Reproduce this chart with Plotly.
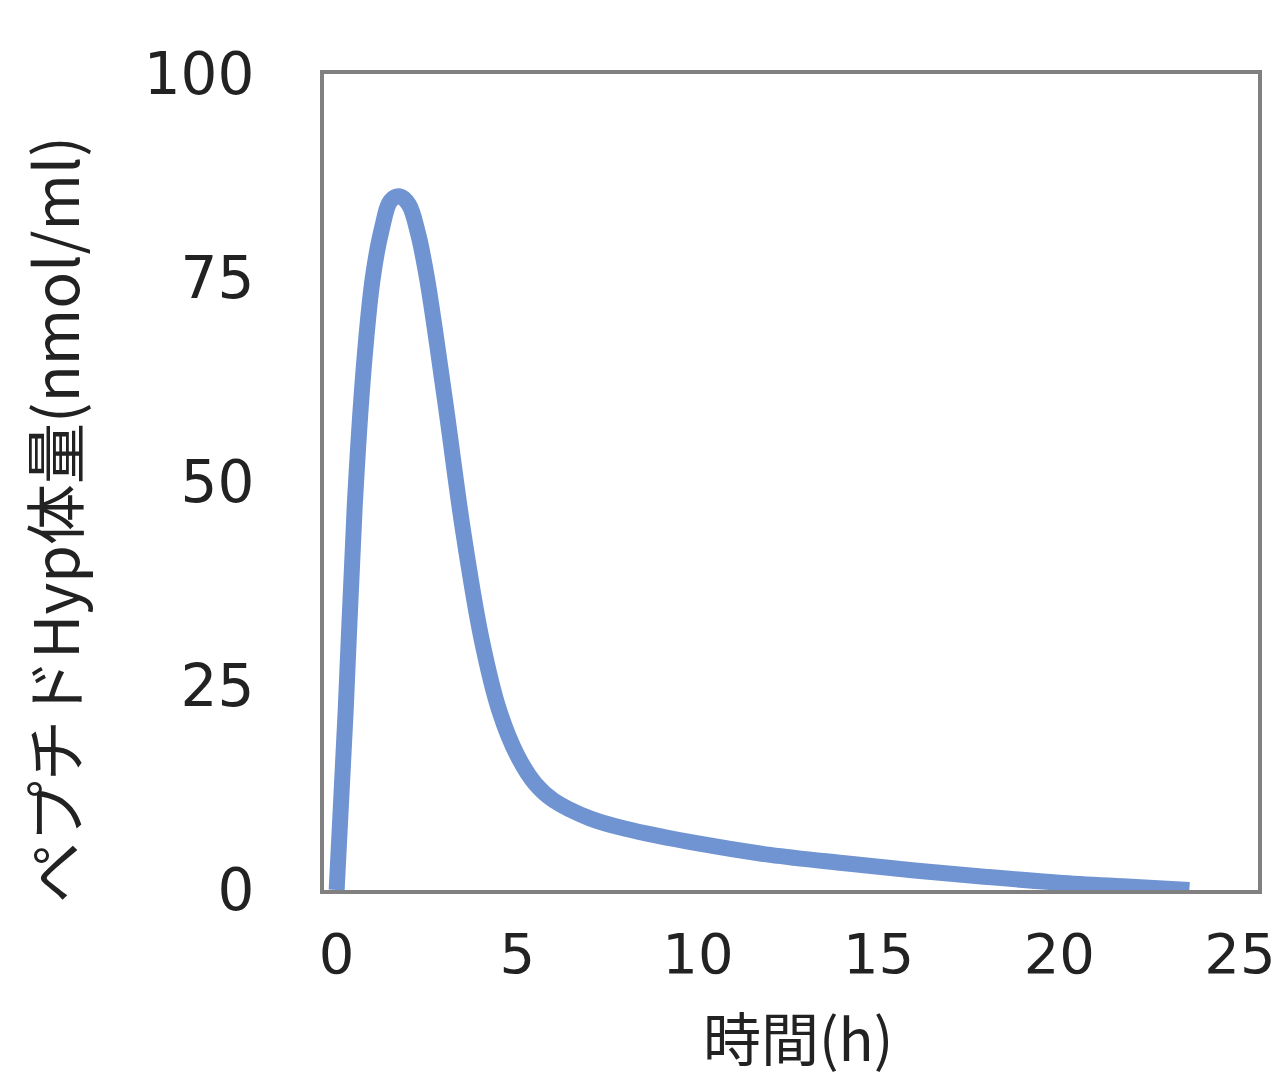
import plotly.graph_objects as go

time_h = [0, 0.25, 0.5, 0.75, 1.0, 1.25, 1.5, 1.75, 2.0, 2.25, 2.5, 3.0, 3.5, 4.0, 4.5, 5.0, 5.5, 6.0, 7.0, 8.0, 10.0, 12.0, 14.0, 16.0, 18.0, 20.0, 22.0, 23.6]
hyp_nmol_ml = [0, 22, 47, 64, 75, 81, 84.5, 85, 84, 80.5, 75, 60, 44, 31, 22, 16.5, 13, 11, 8.8, 7.5, 5.7, 4.3, 3.3, 2.4, 1.6, 0.9, 0.4, 0]

x_ticks = [0, 5, 10, 15, 20, 25]
y_ticks = [0, 25, 50, 75, 100]

L, R, T, B = 316, 29, 66, 200
W = 1279 - L - R
H = 1082 - T - B

fig = go.Figure()
fig.add_trace(go.Scatter(
    x=time_h, y=hyp_nmol_ml, mode="lines",
    line=dict(color="#7094d2", width=16, shape="spline", smoothing=1.0),
    showlegend=False, hoverinfo="skip",
))

num_font = "DejaVu Sans, sans-serif"
jp_font = "Noto Sans CJK JP, sans-serif"
fig.update_layout(
    width=1279, height=1082,
    margin=dict(l=L, r=R, t=T, b=B),
    paper_bgcolor="white", plot_bgcolor="white",
    font=dict(family=num_font, color="#222222", size=58),
    xaxis=dict(
        range=[-0.35, 25.5], tickvals=x_ticks, showgrid=False, zeroline=False,
        showline=True, linecolor="#808080", linewidth=4, mirror=True,
        ticks="", tickfont=dict(family=num_font, size=56, color="#222222"),
        ticklabelstandoff=12,
    ),
    yaxis=dict(
        range=[0, 100], tickvals=y_ticks, showgrid=False, zeroline=False,
        showline=True, linecolor="#808080", linewidth=4, mirror=True,
        ticks="", tickfont=dict(family=num_font, size=58, color="#222222"),
        ticklabelstandoff=54,
    ),
    annotations=[
        dict(
            text="ペプチドHyp体量(nmol/ml)", textangle=-90, showarrow=False,
            xref="paper", yref="paper",
            x=(44 - L) / W, y=(1082 - B - 512) / H,
            xanchor="center", yanchor="middle",
            font=dict(family=jp_font, size=61, color="#222222"),
        ),
        dict(
            text="時間(h)", showarrow=False,
            xref="paper", yref="paper",
            x=(790 - L) / W, y=(1082 - B - 1028) / H,
            xanchor="center", yanchor="middle",
            font=dict(family=jp_font, size=58, color="#222222"),
        ),
    ],
)

fig.write_html("out.html")
